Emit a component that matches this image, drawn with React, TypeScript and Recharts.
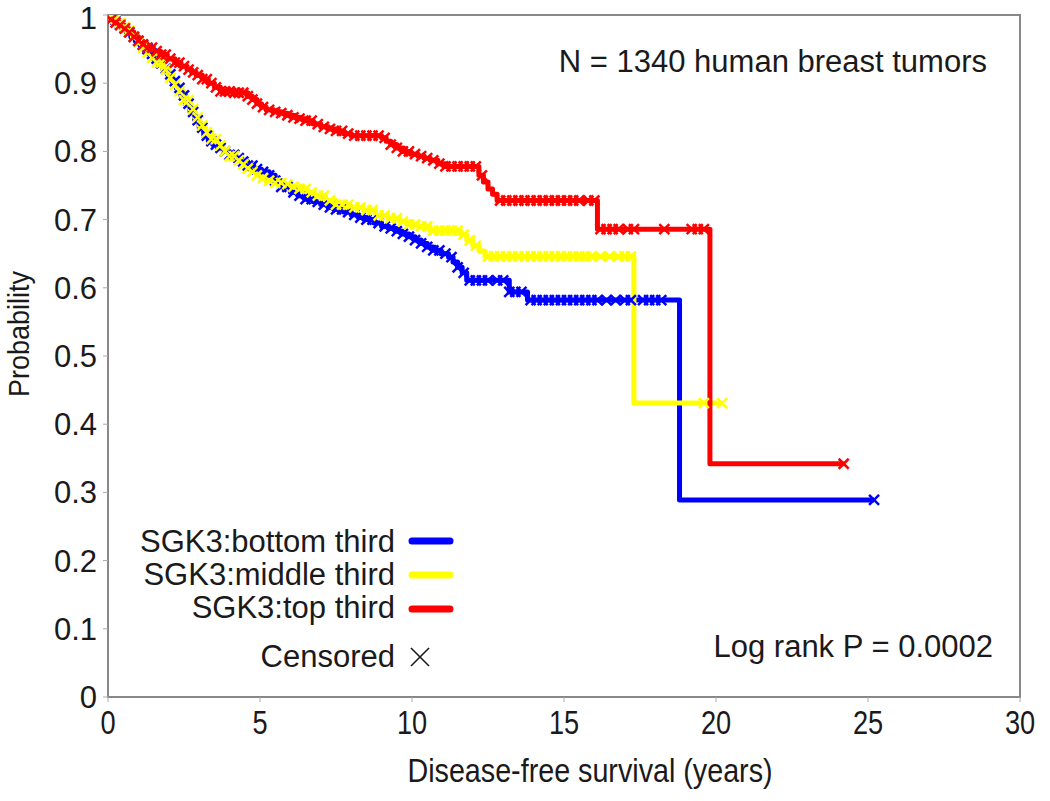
import React from 'react';
import {
  ComposedChart,
  Line,
  Scatter,
  XAxis,
  YAxis,
  ReferenceArea,
  Customized,
} from 'recharts';

// Kaplan-Meier steps (years, survival probability)
const bottomTimes = [0, 0.15, 0.3, 0.45, 0.6, 0.75, 0.9, 1.05, 1.2, 1.35, 1.5, 1.65, 1.8, 1.95, 2.1, 2.25, 2.4, 2.55, 2.7, 2.85, 3.0, 3.15, 3.3, 3.45, 3.6, 3.8, 4.0, 4.2, 4.4, 4.6, 4.8, 5.05, 5.3, 5.5, 5.7, 6.0, 6.25, 6.5, 6.75, 7.0, 7.25, 7.5, 7.75, 8.0, 8.25, 8.5, 8.75, 9.0, 9.25, 9.5, 9.7, 9.9, 10.1, 10.3, 10.5, 10.7, 10.95, 11.2, 11.35, 11.5, 11.65, 11.8, 13.2, 13.8, 18.8, 25.2];
const bottomSurv = [1, 0.993, 0.987, 0.981, 0.975, 0.968, 0.962, 0.956, 0.95, 0.943, 0.936, 0.929, 0.921, 0.913, 0.903, 0.893, 0.882, 0.87, 0.858, 0.846, 0.835, 0.823, 0.815, 0.81, 0.805, 0.8, 0.795, 0.79, 0.785, 0.779, 0.774, 0.77, 0.765, 0.757, 0.748, 0.74, 0.735, 0.73, 0.726, 0.722, 0.718, 0.715, 0.711, 0.707, 0.703, 0.7, 0.695, 0.69, 0.687, 0.683, 0.679, 0.675, 0.67, 0.665, 0.66, 0.655, 0.65, 0.645, 0.638, 0.63, 0.622, 0.611, 0.594, 0.582, 0.289, 0.289];

const middleTimes = [0, 0.15, 0.3, 0.45, 0.6, 0.8, 1.0, 1.15, 1.3, 1.45, 1.6, 1.8, 2.0, 2.15, 2.3, 2.5, 2.7, 2.85, 3.0, 3.2, 3.4, 3.6, 3.8, 4.0, 4.2, 4.4, 4.6, 4.75, 4.9, 5.05, 5.2, 5.5, 5.8, 6.05, 6.3, 6.55, 6.8, 7.15, 7.5, 7.95, 8.4, 8.8, 9.2, 9.6, 9.9, 10.2, 10.6, 11.6, 11.8, 12.0, 12.2, 12.4, 17.3, 20.2];
const middleSurv = [1, 0.994, 0.988, 0.983, 0.977, 0.968, 0.96, 0.952, 0.945, 0.937, 0.93, 0.92, 0.908, 0.898, 0.888, 0.875, 0.862, 0.85, 0.838, 0.828, 0.818, 0.809, 0.8, 0.793, 0.787, 0.781, 0.775, 0.77, 0.765, 0.761, 0.757, 0.754, 0.752, 0.748, 0.745, 0.74, 0.735, 0.728, 0.722, 0.718, 0.714, 0.706, 0.702, 0.697, 0.693, 0.69, 0.684, 0.678, 0.67, 0.662, 0.654, 0.646, 0.431, 0.431];

const topTimes = [0, 0.1, 0.25, 0.4, 0.55, 0.7, 0.85, 1.0, 1.15, 1.3, 1.5, 1.7, 1.95, 2.2, 2.4, 2.6, 2.75, 2.9, 3.1, 3.3, 3.5, 3.7, 4.1, 4.6, 4.75, 4.9, 5.05, 5.2, 5.45, 5.7, 5.9, 6.1, 6.3, 6.5, 6.75, 7.0, 7.25, 7.5, 7.75, 8.0, 9.0, 9.15, 9.3, 9.5, 9.7, 9.95, 10.2, 10.4, 10.6, 10.85, 11.1, 12.2, 12.35, 12.5, 12.65, 12.8, 16.1, 19.8, 24.2];
const topSurv = [1, 0.993, 0.989, 0.985, 0.98, 0.975, 0.968, 0.962, 0.957, 0.952, 0.947, 0.942, 0.936, 0.93, 0.925, 0.92, 0.916, 0.912, 0.906, 0.9, 0.894, 0.888, 0.886, 0.881, 0.876, 0.87, 0.865, 0.861, 0.858, 0.856, 0.853, 0.85, 0.848, 0.845, 0.84, 0.836, 0.833, 0.83, 0.826, 0.823, 0.82, 0.815, 0.81, 0.805, 0.8, 0.796, 0.793, 0.79, 0.787, 0.782, 0.778, 0.765, 0.755, 0.745, 0.737, 0.728, 0.686, 0.342, 0.342];

// censored observations (years)
const bottomCensored = [0.1, 0.25, 0.4, 0.55, 0.7, 0.85, 1.0, 1.15, 1.3, 1.45, 1.6, 1.75, 1.9, 2.05, 2.2, 2.35, 2.5, 2.65, 2.8, 2.95, 3.1, 3.25, 3.4, 3.55, 3.7, 3.85, 4.0, 4.15, 4.3, 4.45, 4.6, 4.75, 4.9, 5.1, 5.3, 5.5, 5.7, 5.9, 6.1, 6.3, 6.5, 6.7, 6.9, 7.1, 7.3, 7.5, 7.7, 7.9, 8.1, 8.3, 8.5, 8.7, 8.9, 9.1, 9.3, 9.5, 9.7, 9.9, 10.1, 10.3, 10.5, 10.7, 10.9, 11.1, 11.3, 11.5, 11.7, 11.9, 12.1, 12.3, 12.5, 12.8, 13.0, 13.2, 13.4, 13.6, 13.9, 14.1, 14.3, 14.5, 14.7, 14.9, 15.1, 15.3, 15.5, 15.7, 15.9, 16.1, 16.4, 16.7, 17.0, 17.2, 17.6, 17.8, 18.0, 18.2, 25.2];
const middleCensored = [0.1, 0.25, 0.4, 0.55, 0.7, 0.85, 1.0, 1.15, 1.3, 1.45, 1.6, 1.75, 1.9, 2.05, 2.2, 2.35, 2.5, 2.65, 2.8, 2.95, 3.1, 3.25, 3.4, 3.55, 3.7, 3.85, 4.0, 4.15, 4.3, 4.45, 4.6, 4.75, 4.9, 5.1, 5.3, 5.5, 5.7, 5.9, 6.1, 6.3, 6.5, 6.7, 6.9, 7.1, 7.3, 7.5, 7.7, 7.9, 8.1, 8.3, 8.5, 8.7, 8.9, 9.1, 9.3, 9.5, 9.7, 9.9, 10.1, 10.3, 10.5, 10.7, 10.9, 11.1, 11.3, 11.5, 11.7, 11.9, 12.1, 12.5, 12.7, 12.9, 13.1, 13.3, 13.5, 13.7, 13.9, 14.1, 14.3, 14.5, 14.7, 14.9, 15.1, 15.3, 15.5, 15.7, 15.9, 16.2, 16.5, 16.8, 17.0, 17.2, 19.6, 20.2];
const topCensored = [0.1, 0.25, 0.4, 0.55, 0.7, 0.85, 1.0, 1.15, 1.3, 1.45, 1.6, 1.75, 1.9, 2.05, 2.2, 2.35, 2.5, 2.65, 2.8, 2.95, 3.1, 3.25, 3.4, 3.55, 3.7, 3.85, 4.0, 4.15, 4.3, 4.45, 4.6, 4.75, 4.9, 5.1, 5.3, 5.5, 5.7, 5.9, 6.1, 6.3, 6.5, 6.7, 6.9, 7.1, 7.3, 7.5, 7.7, 7.9, 8.1, 8.3, 8.5, 8.7, 8.9, 9.1, 9.3, 9.5, 9.7, 9.9, 10.1, 10.3, 10.5, 10.7, 10.9, 11.1, 11.3, 11.5, 11.7, 11.9, 12.1, 12.3, 12.9, 13.1, 13.3, 13.5, 13.7, 13.9, 14.1, 14.3, 14.5, 14.7, 14.9, 15.1, 15.3, 15.5, 15.8, 16.0, 16.2, 16.4, 16.6, 16.8, 17.1, 17.3, 18.3, 19.2, 19.4, 19.6, 24.2];

const xTicks = [0, 5, 10, 15, 20, 25, 30];
const yTicks = [0, 0.1, 0.2, 0.3, 0.4, 0.5, 0.6, 0.7, 0.8, 0.9, 1];

const groupNames = ['SGK3:bottom third', 'SGK3:middle third', 'SGK3:top third'];
const groupColors = ['#0000ff', '#ffff00', '#ff0000'];

const FONT = "'Liberation Sans', Arial, sans-serif";

const toSteps = (times: number[], surv: number[]) => times.map((t, i) => ({ t, s: surv[i] }));

// survival value of the step curve at time t
const lookup = (times: number[], surv: number[], t: number) => {
  let s = surv[0];
  for (let i = 0; i < times.length; i++) {
    if (times[i] <= t) s = surv[i];
  }
  return s;
};

const toMarks = (cens: number[], times: number[], surv: number[]) =>
  cens.map((t) => ({ t, s: lookup(times, surv, t) }));

const groups = [
  { steps: toSteps(bottomTimes, bottomSurv), marks: toMarks(bottomCensored, bottomTimes, bottomSurv) },
  { steps: toSteps(middleTimes, middleSurv), marks: toMarks(middleCensored, middleTimes, middleSurv) },
  { steps: toSteps(topTimes, topSurv), marks: toMarks(topCensored, topTimes, topSurv) },
];

const crossShape = (color: string) => (props: any) => {
  const { cx, cy } = props;
  const r = 5;
  return (
    <g stroke={color} strokeWidth={2.5}>
      <line x1={cx - r} y1={cy - r} x2={cx + r} y2={cy + r} />
      <line x1={cx - r} y1={cy + r} x2={cx + r} y2={cy - r} />
    </g>
  );
};

// condensed tick labels like the original x axis
const XTick = (props: any) => {
  const { x, y, payload } = props;
  return (
    <text
      transform={`translate(${x} ${y}) scale(0.8 1)`}
      textAnchor="middle"
      dy="0.71em"
      fontSize={34}
      fontFamily={FONT}
      fill="#1a1a1a"
    >
      {payload.value}
    </text>
  );
};

const Annotations = () => (
  <g fontFamily={FONT} fill="#1a1a1a">
    <text x={987} y={72} fontSize={31} textAnchor="end">N = 1340 human breast tumors</text>
    <text x={993} y={657} fontSize={31} textAnchor="end">Log rank P = 0.0002</text>
    {groupNames.map((name, i) => (
      <g key={name}>
        <text x={395} y={552 + i * 33} fontSize={31} textAnchor="end">{name}</text>
        <line x1={412} x2={450} y1={541 + i * 34} y2={541 + i * 34} stroke={groupColors[i]} strokeWidth={7} strokeLinecap="round" />
      </g>
    ))}
    <text x={395} y={667} fontSize={31} textAnchor="end">Censored</text>
    <g stroke="#1a1a1a" strokeWidth={1.6}>
      <line x1={411} y1={648} x2={429} y2={666} />
      <line x1={411} y1={666} x2={429} y2={648} />
    </g>
    <text transform="translate(590 782) scale(0.87 1)" fontSize={33} textAnchor="middle">Disease-free survival (years)</text>
    <text transform="translate(29 334) rotate(-90) scale(0.9 1)" fontSize={30} textAnchor="middle">Probability</text>
  </g>
);

const App: React.FC = () => (
  <div style={{ position: 'absolute', left: 0, top: 0, background: '#fff' }}>
    <ComposedChart width={1050} height={801} margin={{ top: 15, right: 30, left: 0, bottom: 0 }}>
      <XAxis
        type="number"
        dataKey="t"
        domain={[0, 30]}
        ticks={xTicks}
        height={104}
        allowDataOverflow
        axisLine={{ stroke: '#888', strokeWidth: 2 }}
        tickLine={{ stroke: '#aaa' }}
        tickSize={5}
        tickMargin={8}
        tick={<XTick />}
      />
      <YAxis
        type="number"
        dataKey="s"
        domain={[0, 1]}
        ticks={yTicks}
        width={108}
        allowDataOverflow
        axisLine={{ stroke: '#888', strokeWidth: 2 }}
        tickLine={{ stroke: '#aaa' }}
        tickSize={5}
        tickMargin={6}
        tickFormatter={(v: number) => String(Math.round(v * 10) / 10)}
        tick={{ fontSize: 31, fill: '#1a1a1a', fontFamily: FONT }}
      />
      <ReferenceArea x1={0} x2={30} y1={0} y2={1} fill="none" stroke="#888" strokeWidth={2} ifOverflow="visible" />
      {groups.map((g, i) => (
        <Line
          key={'line' + i}
          data={g.steps}
          dataKey="s"
          type="stepAfter"
          stroke={groupColors[i]}
          strokeWidth={5}
          strokeLinejoin="round"
          dot={false}
          activeDot={false}
          isAnimationActive={false}
        />
      ))}
      {groups.map((g, i) => (
        <Scatter
          key={'cens' + i}
          data={g.marks}
          fill={groupColors[i]}
          shape={crossShape(groupColors[i])}
          isAnimationActive={false}
        />
      ))}
      <Customized component={Annotations} />
    </ComposedChart>
  </div>
);

export default App;
